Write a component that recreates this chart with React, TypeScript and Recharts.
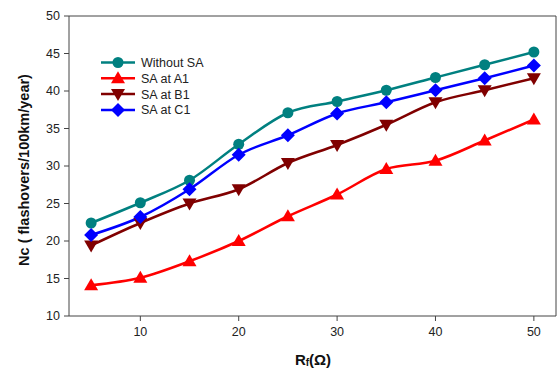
import { LineChart, Line, XAxis, YAxis, Label, ReferenceLine } from 'recharts';

const rf = [5, 10, 15, 20, 25, 30, 35, 40, 45, 50];
const withoutSA = [22.4, 25.1, 28.1, 32.9, 37.1, 38.6, 40.1, 41.8, 43.5, 45.2];
const saA1 = [14.1, 15.1, 17.3, 20.0, 23.3, 26.2, 29.6, 30.7, 33.4, 36.2];
const saB1 = [19.4, 22.4, 25.0, 26.9, 30.4, 32.8, 35.5, 38.5, 40.1, 41.7];
const saC1 = [20.8, 23.2, 26.9, 31.5, 34.1, 37.0, 38.5, 40.1, 41.7, 43.4];
const xTicks = [10, 20, 30, 40, 50];
const yTicks = [10, 15, 20, 25, 30, 35, 40, 45, 50];

const data = rf.map((x, i) => ({
  rf: x,
  without: withoutSA[i],
  a1: saA1[i],
  b1: saB1[i],
  c1: saC1[i],
}));

const series = [
  { key: 'without', name: 'Without SA', color: '#008080', shape: 'circle' },
  { key: 'a1', name: 'SA at A1', color: '#FF0000', shape: 'up' },
  { key: 'b1', name: 'SA at B1', color: '#800000', shape: 'down' },
  { key: 'c1', name: 'SA at C1', color: '#0000FF', shape: 'diamond' },
];

const font = 'Liberation Sans, Arial, sans-serif';

const Marker = ({ cx, cy, shape, color }: any) => {
  if (cx == null || cy == null) return null;
  if (shape === 'circle') return <circle cx={cx} cy={cy} r={5.5} fill={color} />;
  if (shape === 'up')
    return <polygon points={`${cx},${cy - 7} ${cx + 7},${cy + 5} ${cx - 7},${cy + 5}`} fill={color} />;
  if (shape === 'down')
    return <polygon points={`${cx},${cy + 7} ${cx + 7},${cy - 5} ${cx - 7},${cy - 5}`} fill={color} />;
  return <polygon points={`${cx},${cy - 7} ${cx + 7},${cy} ${cx},${cy + 7} ${cx - 7},${cy}`} fill={color} />;
};

// legend drawn on top of the plot, upper-left
const LegendBox = () => (
  <svg width={130} height={66} style={{ position: 'absolute', left: 99, top: 54 }}>
    {series.map((s, i) => {
      const y = 8.5 + i * 15.8;
      return (
        <g key={s.key}>
          <line x1={2} x2={36} y1={y} y2={y} stroke={s.color} strokeWidth={2.5} />
          <Marker cx={19} cy={y} shape={s.shape} color={s.color} />
          <text x={42} y={y + 4.5} fontSize={12.5} fill="#222" fontFamily={font}>
            {s.name}
          </text>
        </g>
      );
    })}
  </svg>
);

const tickStyle = { fontSize: 12.5, fill: '#222', fontFamily: font };

export default function App() {
  return (
    <div style={{ position: 'absolute', left: 0, top: 0, width: 558, height: 369, background: '#fff' }}>
      <LineChart width={558} height={369} data={data} margin={{ top: 16, right: 2, left: 0, bottom: 0 }}>
        <XAxis
          dataKey="rf"
          type="number"
          domain={[2.75, 52.25]}
          ticks={xTicks}
          allowDataOverflow
          height={53}
          stroke="#444"
          tick={tickStyle}
          tickSize={5}
          tickMargin={6}
        >
          <Label
            content={() => (
              <text x={313} y={365} textAnchor="middle" fontSize={15} fontWeight="bold" fill="#111" fontFamily={font}>
                R<tspan fontSize={10} dy={1}>f</tspan><tspan dy={-1}>(Ω)</tspan>
              </text>
            )}
          />
        </XAxis>
        <YAxis
          domain={[10, 50]}
          ticks={yTicks}
          width={69}
          stroke="#444"
          tick={tickStyle}
          tickSize={5}
          tickMargin={4}
        >
          <Label
            content={() => (
              <text x={29} y={170} transform="rotate(-90 29 170)" textAnchor="middle" fontSize={14.5} fontWeight="bold" fill="#111" fontFamily={font}>
                Nc ( flashovers/100km/year)
              </text>
            )}
          />
        </YAxis>
        <ReferenceLine y={50} stroke="#444" />
        <ReferenceLine x={52.25} stroke="#444" />
        {series.map((s) => (
          <Line
            key={s.key}
            type="monotone"
            dataKey={s.key}
            name={s.name}
            stroke={s.color}
            strokeWidth={2.5}
            dot={(p: any) => <Marker key={`${s.key}-${p.index}`} cx={p.cx} cy={p.cy} shape={s.shape} color={s.color} />}
            isAnimationActive={false}
          />
        ))}
      </LineChart>
      <LegendBox />
    </div>
  );
}
